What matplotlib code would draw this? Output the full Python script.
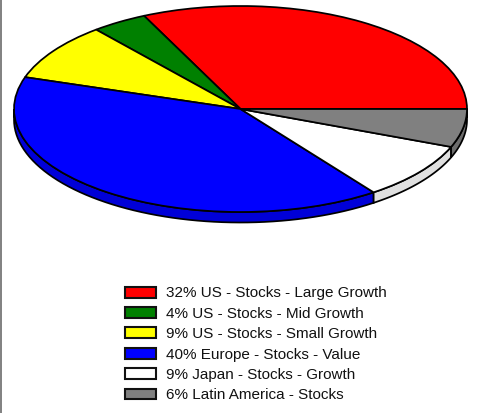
import numpy as np
import matplotlib
matplotlib.use("Agg")
import matplotlib.pyplot as plt
from matplotlib.patches import Patch, Polygon
from matplotlib.lines import Line2D

names = ["US - Stocks - Large Growth", "US - Stocks - Mid Growth", "US - Stocks - Small Growth",
         "Europe - Stocks - Value", "Japan - Stocks - Growth", "Latin America - Stocks"]
values = [32, 4, 9, 40, 9, 6]
colors = ["#ff0000", "#008000", "#ffff00", "#0000ff", "#ffffff", "#808080"]
side_colors = ["#d80000", "#006c00", "#d8d800", "#0000d8", "#e0e0e0", "#6c6c6c"]

W, H = 478, 413
CX, CY, RX, RY, DEPTH = 240.5, 109.0, 226.5, 103.0, 10.5

plt.rcParams["font.family"] = ["Liberation Sans", "DejaVu Sans"]
fig = plt.figure(figsize=(W / 100, H / 100), dpi=100, facecolor="white")
ax = fig.add_axes([(CX - RX) / W, 1 - (CY + RY) / H, 2 * RX / W, 2 * RY / H])

wedges, _ = ax.pie(values, colors=colors, startangle=0, counterclock=True, radius=1,
                   wedgeprops=dict(edgecolor="black", linewidth=1.25, zorder=3))
ax.set_aspect("auto")
ax.set_xlim(-1, 1)
ax.set_ylim(-1, 1)
ax.axis("off")

# extruded rim for the slices on the near half of the pie
d = DEPTH / RY
edges = np.cumsum([0] + values) / sum(values) * 360
for a0, a1, sc in zip(edges[:-1], edges[1:], side_colors):
    a0, a1 = max(a0, 180), max(a1, 180)
    if a1 <= a0:
        continue
    t = np.radians(np.linspace(a0, a1, 60))
    x, y = np.cos(t), np.sin(t)
    pts = np.r_[np.c_[x, y], np.c_[x, y - d][::-1]]
    ax.add_patch(Polygon(pts, closed=True, facecolor=sc, edgecolor="black",
                         linewidth=1.25, zorder=2, clip_on=False))
for w in wedges:
    w.set_clip_on(False)

handles = [Patch(facecolor=c, edgecolor="#111111", linewidth=1.5) for c in colors]
labels = [f"{v}% {n}" for v, n in zip(values, names)]
fig.legend(handles, labels, loc="upper left", bbox_to_anchor=(124.5 / W, 1 - 286.5 / H),
           bbox_transform=fig.transFigure, frameon=False, fontsize=11,
           handlelength=2.08, handleheight=0.72, handletextpad=0.65,
           labelspacing=0.417, borderpad=0, borderaxespad=0, labelcolor="#111111")

fig.add_artist(Line2D([0.5 / W, 0.5 / W], [0, 1], color="#808080", linewidth=1.4,
                      transform=fig.transFigure))
fig.savefig("out.png", dpi=100, facecolor="white")
